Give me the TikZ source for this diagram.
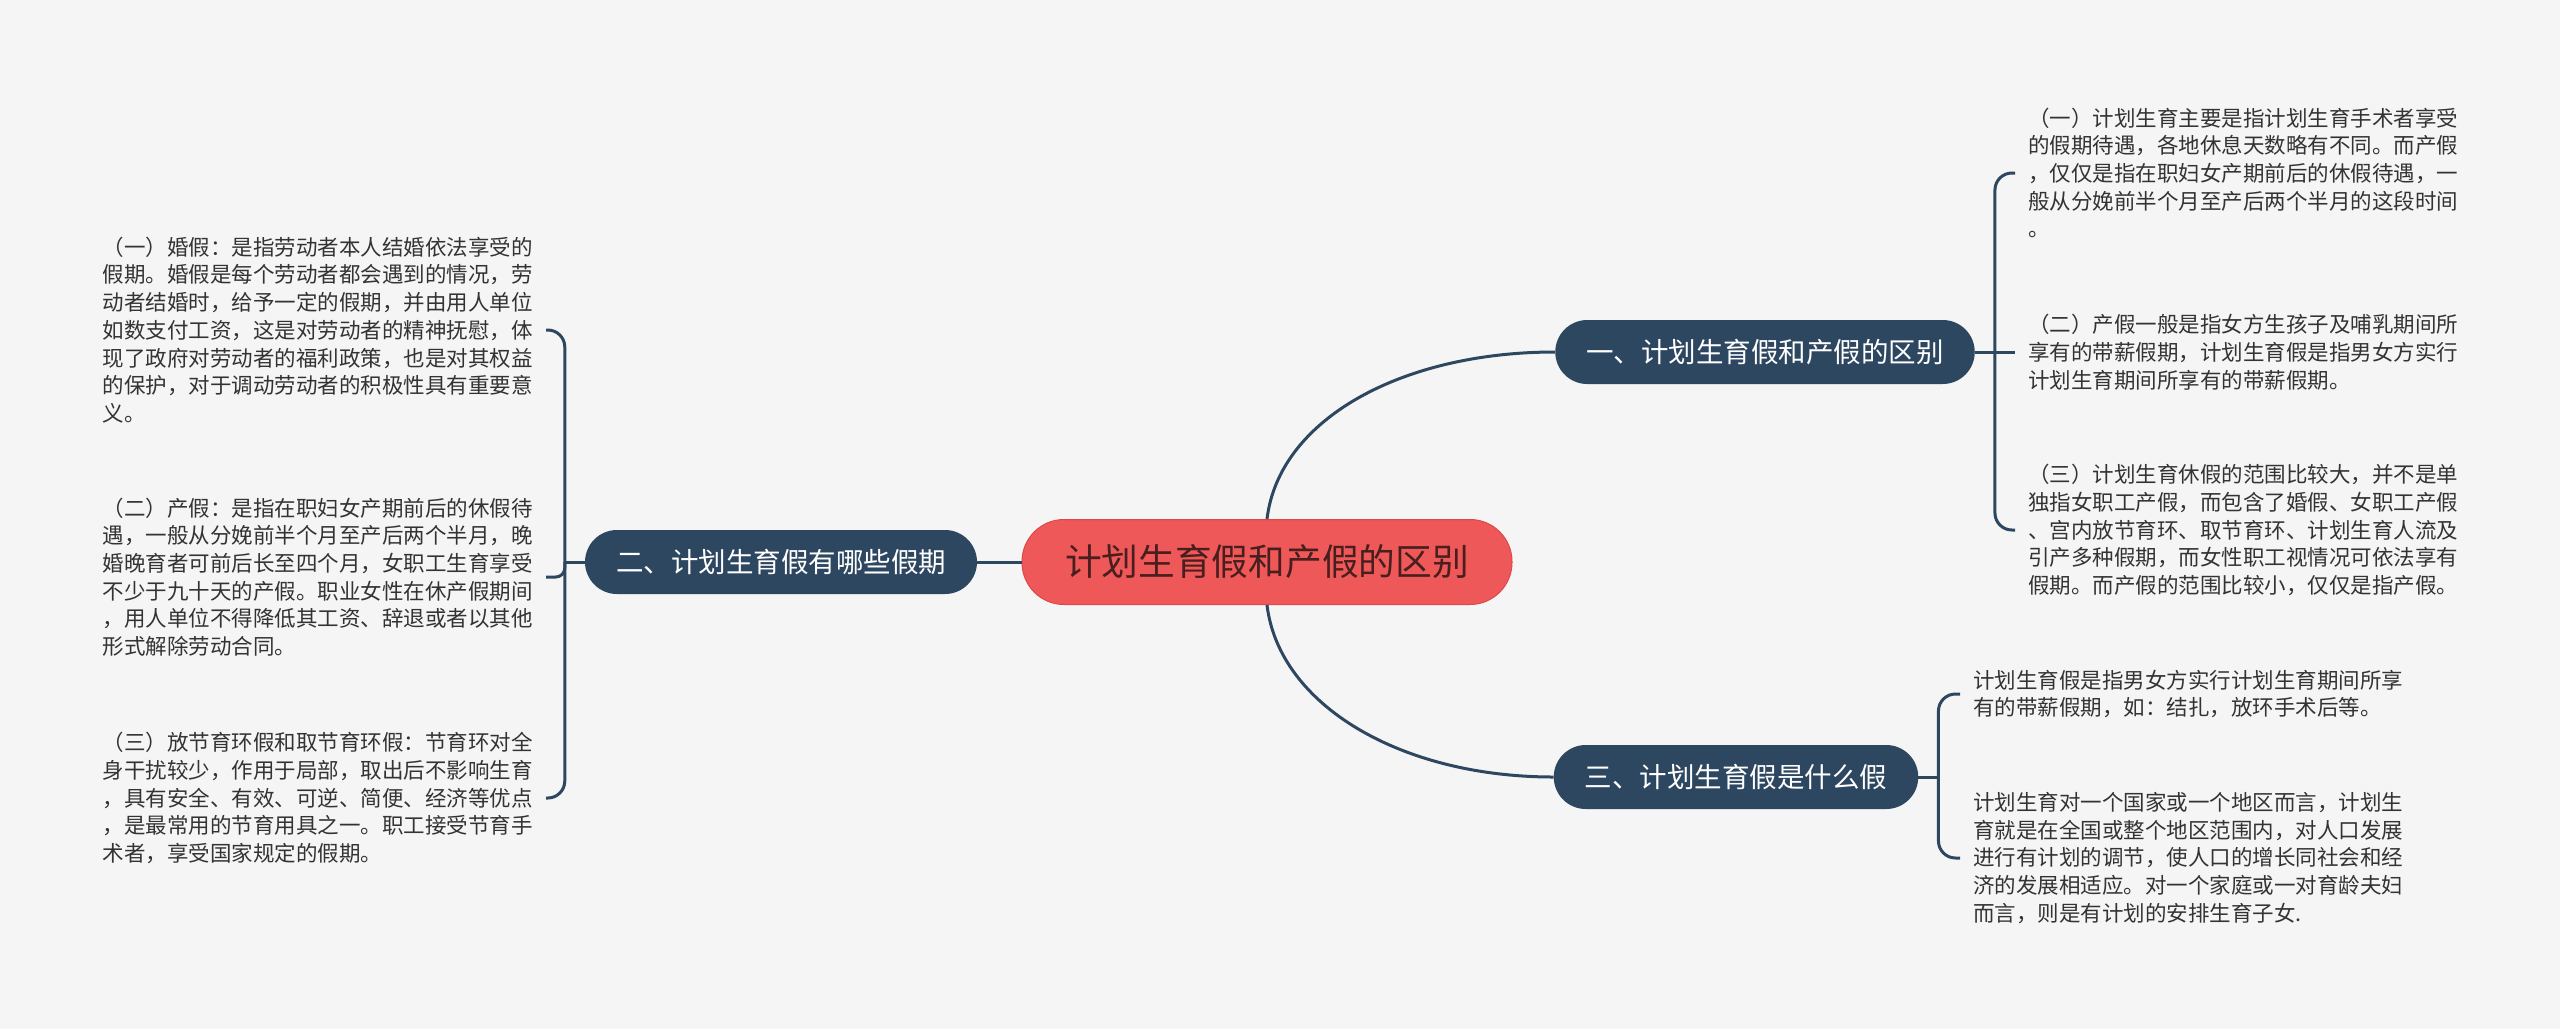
\documentclass[tikz,border=0pt]{standalone}
\usepackage{fontspec}
\setmainfont{Noto Sans CJK SC}
\usetikzlibrary{positioning,calc}
\definecolor{bgc}{RGB}{245,245,245}
\definecolor{nbr}{RGB}{46,71,96}
\definecolor{nr}{RGB}{239,88,88}
\definecolor{nrr}{RGB}{222,72,72}
\definecolor{nrt}{RGB}{72,30,30}
\definecolor{lft}{RGB}{51,51,51}
\tikzset{
  rn/.style={rectangle,rounded corners=42pt,draw=nrr,line width=1pt,fill=nr,text=nrt,
    minimum width=490pt,minimum height=85pt,inner sep=0pt,
    font=\fontsize{36.7}{44}\selectfont},
  bn/.style={rectangle,rounded corners=32pt,fill=nbr,text=white,
    minimum height=64pt,inner xsep=31pt,inner ysep=0pt,
    font=\fontsize{27.5}{33}\selectfont},
  lf/.style={align=left,inner xsep=13pt,inner ysep=2pt,text=lft,
    font=\fontsize{21.5}{27.7}\selectfont},
  ln/.style={draw=nbr,line width=3pt},
  br/.style={ln,rounded corners=#1},
  br/.default=17pt,
}

\begin{document}
\begin{tikzpicture}[x=1pt,y=1pt]
  \fill[bgc] (0,0) rectangle (2560,-1029);
  % root and main branches
  \node[rn] (c) at (1267,-562) {计划生育假和产假的区别};
  \node[bn] (b1) at (1765,-352) {一、计划生育假和产假的区别};
  \node[bn] (b2) at (781,-562) {二、计划生育假有哪些假期};
  \node[bn] (b3) at (1736,-777) {三、计划生育假是什么假};
  % leaves of branch one
  \node[lf,anchor=west] (r1) at (2015,-173)
    {（一）计划生育主要是指计划生育手术者享受\\的假期待遇，各地休息天数略有不同。而产假\\，仅仅是指在职妇女产期前后的休假待遇，一\\般从分娩前半个月至产后两个半月的这段时间\\。};
  \node[lf,anchor=west] (r2) at (2015,-352)
    {（二）产假一般是指女方生孩子及哺乳期间所\\享有的带薪假期，计划生育假是指男女方实行\\计划生育期间所享有的带薪假期。};
  \node[lf,anchor=west] (r3) at (2015,-530)
    {（三）计划生育休假的范围比较大，并不是单\\独指女职工产假，而包含了婚假、女职工产假\\、宫内放节育环、取节育环、计划生育人流及\\引产多种假期，而女性职工视情况可依法享有\\假期。而产假的范围比较小，仅仅是指产假。};
  % leaves of branch two
  \node[lf,anchor=east] (l1) at (546,-330)
    {（一）婚假：是指劳动者本人结婚依法享受的\\假期。婚假是每个劳动者都会遇到的情况，劳\\动者结婚时，给予一定的假期，并由用人单位\\如数支付工资，这是对劳动者的精神抚慰，体\\现了政府对劳动者的福利政策，也是对其权益\\的保护，对于调动劳动者的积极性具有重要意\\义。};
  \node[lf,anchor=east] (l2) at (546,-577)
    {（二）产假：是指在职妇女产期前后的休假待\\遇，一般从分娩前半个月至产后两个半月，晚\\婚晚育者可前后长至四个月，女职工生育享受\\不少于九十天的产假。职业女性在休产假期间\\，用人单位不得降低其工资、辞退或者以其他\\形式解除劳动合同。};
  \node[lf,anchor=east] (l3) at (546,-798)
    {（三）放节育环假和取节育环假：节育环对全\\身干扰较少，作用于局部，取出后不影响生育\\，具有安全、有效、可逆、简便、经济等优点\\，是最常用的节育用具之一。职工接受节育手\\术者，享受国家规定的假期。};
  % leaves of branch three
  \node[lf,anchor=west] (s1) at (1960,-694)
    {计划生育假是指男女方实行计划生育期间所享\\有的带薪假期，如：结扎，放环手术后等。};
  \node[lf,anchor=west] (s2) at (1960,-858)
    {计划生育对一个国家或一个地区而言，计划生\\育就是在全国或整个地区范围内，对人口发展\\进行有计划的调节，使人口的增长同社会和经\\济的发展相适应。对一个家庭或一对育龄夫妇\\而言，则是有计划的安排生育子女.};
  % junctions
  \coordinate[right=20pt of b1.east] (j1);
  \coordinate[left=20pt of b2.west] (j2);
  \coordinate[right=20pt of b3.east] (j3);
  % connectors
  \draw[ln] (c.north) .. controls +(12,100) and +(-153,0) .. (b1.west);
  \draw[ln] (c.south) .. controls +(12,-100) and +(-153,0) .. (b3.west);
  \draw[ln] (c.west) -- (b2.east);
  \draw[ln] (b1.east) -- (j1);
  \draw[ln] (b2.west) -- (j2);
  \draw[ln] (b3.east) -- (j3);
  \draw[br] (j1) |- (r1.west);
  \draw[ln] (j1) -- (r2.west);
  \draw[br] (j1) |- (r3.west);
  \draw[br] (j2) |- (l1.east);
  \draw[br=9pt] (j2) |- (l2.east);
  \draw[br] (j2) |- (l3.east);
  \draw[br] (j3) |- (s1.west);
  \draw[br] (j3) |- (s2.west);
\end{tikzpicture}
\end{document}
